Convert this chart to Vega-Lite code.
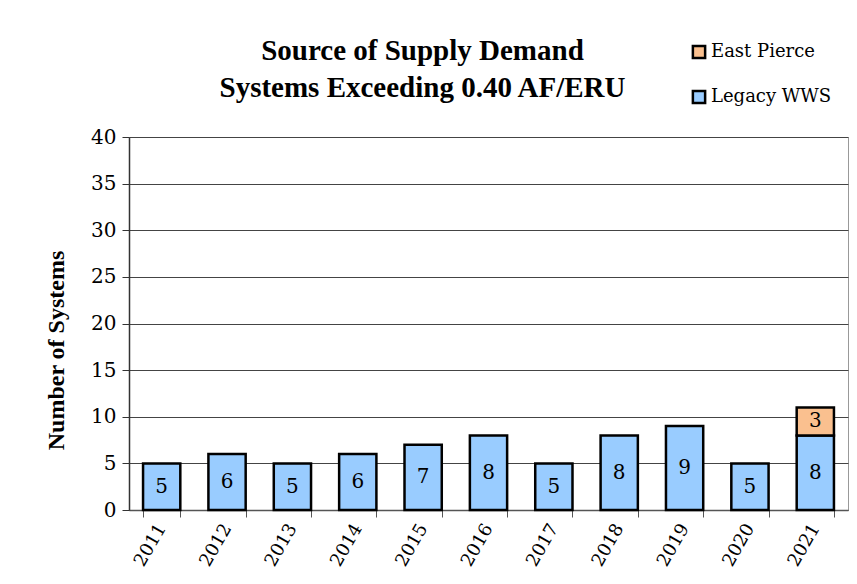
{
  "$schema": "https://vega.github.io/schema/vega-lite/v6.json",
  "width": 719,
  "height": 373,
  "autosize": {"type": "none"},
  "padding": {"left": 129, "top": 137, "right": 9, "bottom": 74},
  "background": "white",
  "title": {
    "text": ["Source of Supply Demand", "Systems Exceeding 0.40 AF/ERU"],
    "font": "Liberation Serif",
    "fontSize": 29,
    "fontWeight": "bold",
    "color": "black",
    "anchor": "middle",
    "dx": -66,
    "lineHeight": 37,
    "offset": -60
  },
  "data": {
    "values": [
      {"year": "2011", "source": "Legacy WWS", "count": 5},
      {"year": "2012", "source": "Legacy WWS", "count": 6},
      {"year": "2013", "source": "Legacy WWS", "count": 5},
      {"year": "2014", "source": "Legacy WWS", "count": 6},
      {"year": "2015", "source": "Legacy WWS", "count": 7},
      {"year": "2016", "source": "Legacy WWS", "count": 8},
      {"year": "2017", "source": "Legacy WWS", "count": 5},
      {"year": "2018", "source": "Legacy WWS", "count": 8},
      {"year": "2019", "source": "Legacy WWS", "count": 9},
      {"year": "2020", "source": "Legacy WWS", "count": 5},
      {"year": "2021", "source": "Legacy WWS", "count": 8},
      {"year": "2021", "source": "East Pierce", "count": 3}
    ]
  },
  "transform": [
    {"calculate": "datum.source === 'Legacy WWS' ? 0 : 1", "as": "ord"},
    {"stack": "count", "groupby": ["year"], "sort": [{"field": "ord", "order": "ascending"}], "as": ["c0", "c1"]},
    {"calculate": "(datum.c0 + datum.c1) / 2", "as": "cmid"}
  ],
  "config": {
    "view": {"stroke": "#999999", "strokeWidth": 1},
    "font": "DejaVu Serif"
  },
  "encoding": {
    "x": {
      "field": "year",
      "type": "ordinal",
      "scale": {"paddingInner": 0.43, "paddingOuter": 0.215},
      "axis": {
        "title": null,
        "labelAngle": -60,
        "labelFont": "DejaVu Serif",
        "labelFontSize": 18,
        "labelColor": "black",
        "labelPadding": 8,
        "tickBand": "extent",
        "tickSize": 7,
        "tickColor": "#555555",
        "domainColor": "#555555",
        "domainWidth": 1.5
      }
    }
  },
  "layer": [
    {
      "mark": {"type": "bar", "stroke": "black", "strokeWidth": 2.5},
      "encoding": {
        "y": {
          "field": "c0",
          "type": "quantitative",
          "scale": {"domain": [0, 40]},
          "axis": {
            "title": "Number of Systems",
            "titleFont": "Liberation Serif",
            "titleFontSize": 24,
            "titleFontWeight": "bold",
            "titleColor": "black",
            "titlePadding": 22,
            "titleY": 213,
            "values": [0, 5, 10, 15, 20, 25, 30, 35, 40],
            "labelFont": "DejaVu Serif",
            "labelFontSize": 20,
            "labelColor": "black",
            "labelPadding": 6,
            "tickSize": 7,
            "tickColor": "#333333",
            "domainColor": "#333333",
            "domainWidth": 1.5,
            "grid": true,
            "gridColor": "#444444",
            "gridWidth": 1
          }
        },
        "y2": {"field": "c1"},
        "color": {
          "field": "source",
          "type": "nominal",
          "scale": {"domain": ["East Pierce", "Legacy WWS"], "range": ["#FAC08F", "#99CCFF"]},
          "legend": {
            "title": null,
            "orient": "none",
            "legendX": 561,
            "legendY": -94,
            "symbolType": "square",
            "symbolSize": 150,
            "symbolStrokeColor": "black",
            "symbolStrokeWidth": 2.5,
            "labelFont": "DejaVu Serif",
            "labelFontSize": 18,
            "labelColor": "black",
            "labelOffset": 3,
            "rowPadding": 21
          }
        }
      }
    },
    {
      "mark": {"type": "text", "font": "DejaVu Serif", "fontSize": 20, "color": "black", "baseline": "middle"},
      "encoding": {
        "y": {"field": "cmid", "type": "quantitative"},
        "text": {"field": "count", "type": "quantitative"}
      }
    }
  ]
}
